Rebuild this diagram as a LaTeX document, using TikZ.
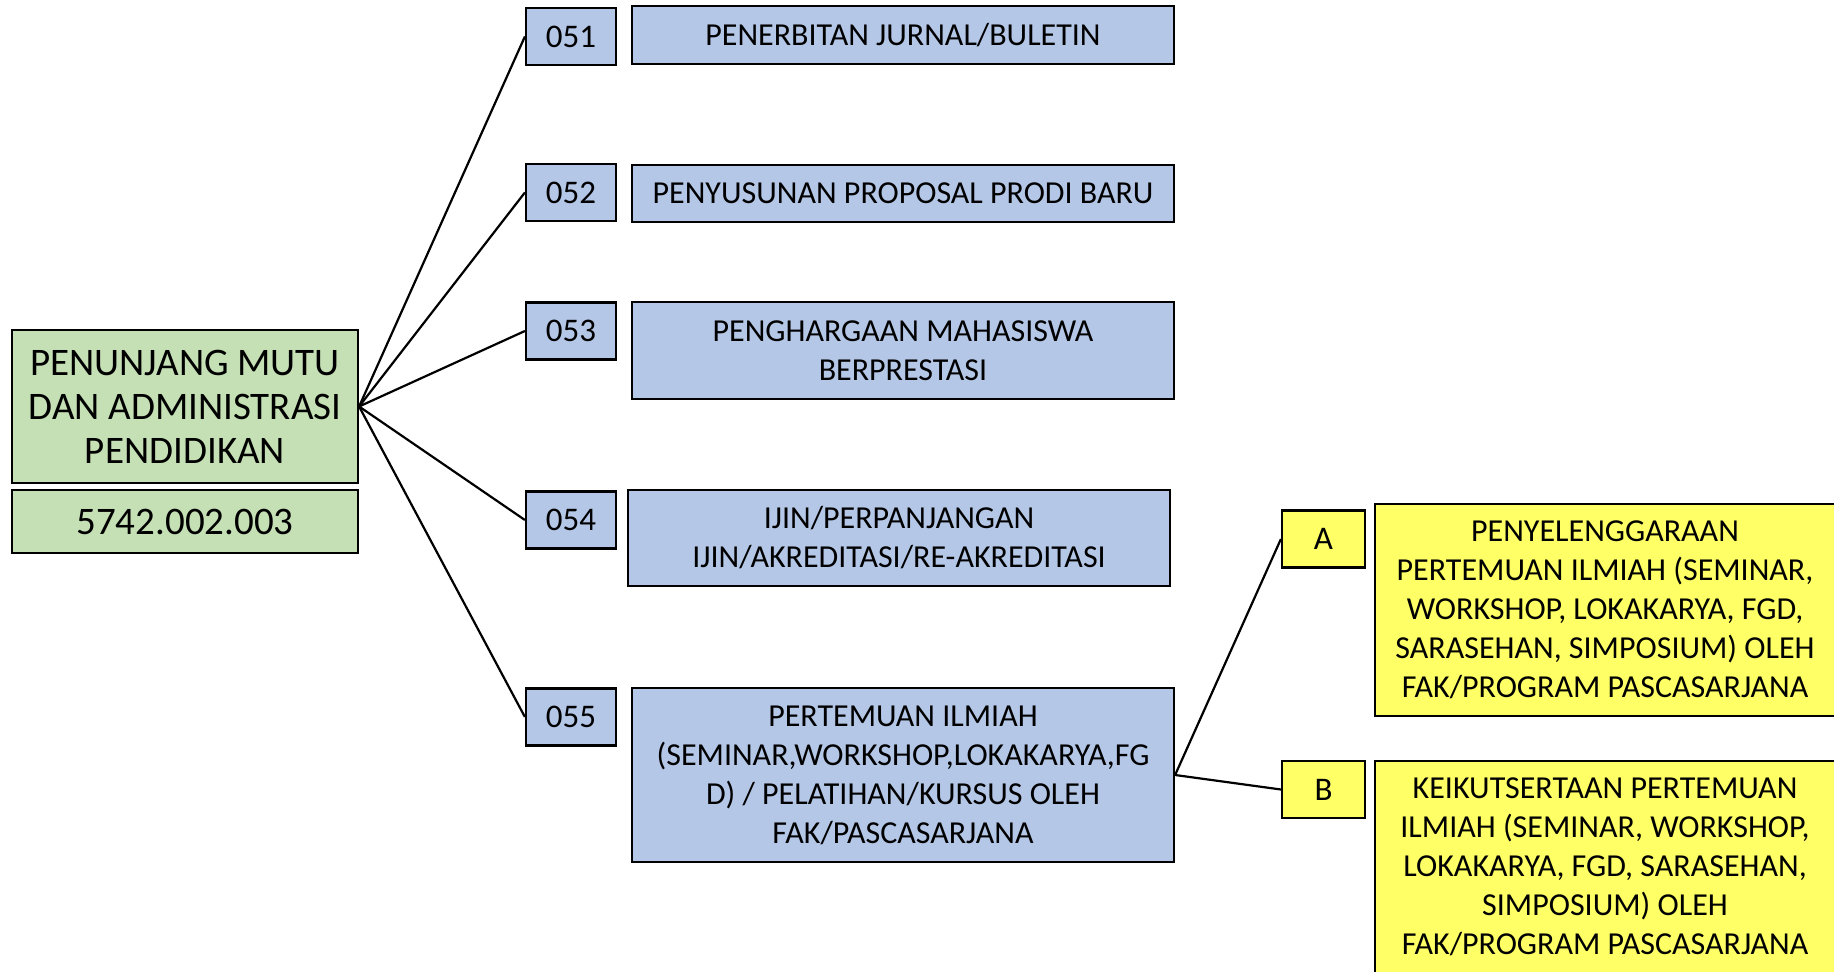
\documentclass[tikz,border=0pt]{standalone}
\usepackage{fontspec}
\setmainfont{Carlito}
\usetikzlibrary{positioning}
\definecolor{mainfill}{HTML}{C5E0B4}
\definecolor{kegfill}{HTML}{B4C7E7}
\definecolor{subfill}{HTML}{FFFF66}

\begin{document}
\begin{tikzpicture}[x=0.5pt,y=-0.5pt,
    box/.style={draw=black, line width=1.1pt, align=center, inner sep=2pt},
    mainbox/.style={box, fill=mainfill, minimum width=173pt,
        font=\fontsize{19.5}{22}\selectfont},
    kodebox/.style={box, fill=kegfill, minimum width=45pt, minimum height=28.5pt,
        font=\fontsize{16.5}{19.5}\selectfont},
    kegbox/.style={box, fill=kegfill, minimum width=271pt,
        font=\fontsize{16}{19.5}\selectfont},
    subkode/.style={box, fill=subfill, minimum width=41.5pt, minimum height=28.5pt,
        font=\fontsize{16.5}{19.5}\selectfont},
    subbox/.style={box, fill=subfill, minimum width=230pt, minimum height=106pt,
        font=\fontsize{16}{19.5}\selectfont},
    link/.style={line width=1.1pt}]

    \useasboundingbox (0,0) rectangle (1834,972);
    \clip (0,0) rectangle (1834,972);

    % Output
    \node[mainbox, minimum height=76.5pt] (main) at (185,406.5)
        {PENUNJANG MUTU\\DAN ADMINISTRASI\\PENDIDIKAN};
    \node[mainbox, minimum height=31.5pt, below of=main, node distance=57.5pt] (kode)
        {5742.002.003};

    % Components
    \node[kodebox] (k51) at (571,36.5) {051};
    \node[kodebox] (k52) at (571,192.5) {052};
    \node[kodebox] (k53) at (571,331) {053};
    \node[kodebox] (k54) at (571,520) {054};
    \node[kodebox] (k55) at (571,717) {055};

    \node[kegbox, minimum height=29pt] (t51) at (903,35) {PENERBITAN JURNAL/BULETIN};
    \node[kegbox, minimum height=28.5pt] (t52) at (903,193.5) {PENYUSUNAN PROPOSAL PRODI BARU};
    \node[kegbox, minimum height=48.5pt] (t53) at (903,350.5)
        {PENGHARGAAN MAHASISWA\\BERPRESTASI};
    \node[kegbox, minimum height=48pt] (t54) at (899,538)
        {IJIN/PERPANJANGAN\\IJIN/AKREDITASI/RE-AKREDITASI};
    \node[kegbox, minimum height=87pt] (t55) at (903,775)
        {PERTEMUAN ILMIAH\\(SEMINAR,WORKSHOP,LOKAKARYA,FG\\D) / PELATIHAN/KURSUS OLEH\\FAK/PASCASARJANA};

    % Sub components
    \node[subkode] (sA) at (1323.5,539) {A};
    \node[subkode] (sB) at (1323.5,789.5) {B};

    \node[subbox] (tA) at (1605,610)
        {PENYELENGGARAAN\\PERTEMUAN ILMIAH (SEMINAR,\\WORKSHOP, LOKAKARYA, FGD,\\SARASEHAN, SIMPOSIUM) OLEH\\FAK/PROGRAM PASCASARJANA};
    \node[subbox] (tB) at (1605,867)
        {KEIKUTSERTAAN PERTEMUAN\\ILMIAH (SEMINAR, WORKSHOP,\\LOKAKARYA, FGD, SARASEHAN,\\SIMPOSIUM) OLEH\\FAK/PROGRAM PASCASARJANA};

    % Draw the links
    \draw[link] (main.east) -- (k51.west);
    \draw[link] (main.east) -- (k52.west);
    \draw[link] (main.east) -- (k53.west);
    \draw[link] (main.east) -- (k54.west);
    \draw[link] (main.east) -- (k55.west);

    \draw[link] (t55.east) -- (sA.west);
    \draw[link] (t55.east) -- (sB.west);
\end{tikzpicture}
\end{document}
